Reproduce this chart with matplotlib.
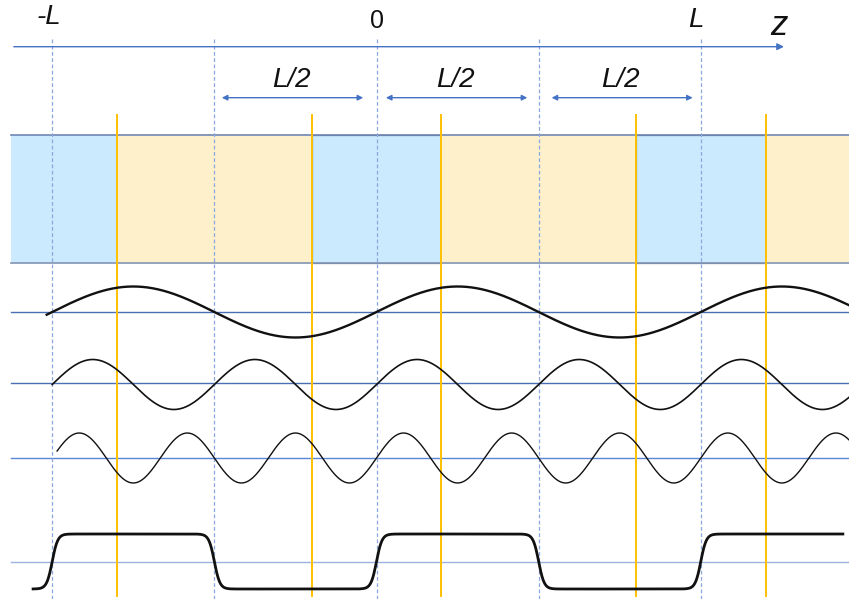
import numpy as np
import matplotlib.pyplot as plt
from matplotlib.patches import Rectangle

plt.rcParams['font.family'] = ['Liberation Sans', 'DejaVu Sans']

# horizontal unit: z / L ; vertical: image rows (top = 0)
z_left, z_right = -1.161, 1.457
z_start = -1.127

grid_z = [-1.0, -0.5, 0.0, 0.5, 1.0]          # dashed guide lines
yellow_z = [-0.8, -0.2, 0.2, 0.8, 1.2]        # orange marker lines
band_edges = [z_start, -0.8, -0.2, 0.2, 0.8, 1.2, z_right]
band_kind = ['blue', 'yellow', 'blue', 'yellow', 'blue', 'yellow']

top_labels = ['-L', '0', 'L']
top_label_z = [-1.01, 0.0, 0.984]
top_label_row = [17.0, 20.5, 20.0]
top_label_size = [20, 18, 20]
half_spans = [(-0.477, -0.041), (0.029, 0.465), (0.540, 0.975)]

# sine rows: harmonic, centre row, amplitude, start z, baseline row, line width
harmonics = [1, 2, 3]
wave_center = [312.0, 384.5, 458.0]
wave_amp = [25.5, 25.0, 25.0]
wave_start = [-1.017, -1.0, -0.985]
wave_base = [311.7, 383.3, 458.3]
wave_lw = [1.7, 1.2, 1.0]
base_colors = ['#4a6fb5', '#4a6fb5', '#5b86d6']

# smoothed square wave
sq_steps = [-1.0, -0.5, 0.0, 0.5, 1.0]
sq_sign = [1, -1, 1, -1, 1]
sq_high, sq_low, sq_base = 534.0, 589.0, 561.7
sq_range = (-1.059, 1.438)

band_top, band_bot = 135.0, 262.7
axis_row, arrow_row = 46.7, 97.7

fig = plt.figure(figsize=(8.49, 5.99), dpi=100)
ax = fig.add_axes([0, 0, 1, 1])
ax.set_xlim(z_left, z_right)
ax.set_ylim(599, 0)
ax.axis('off')

# coloured band
fills = {'blue': '#cceafd', 'yellow': '#fff0cc'}
for i, kind in enumerate(band_kind):
    a, b = band_edges[i], band_edges[i + 1]
    edge = '#6b7c99' if (kind == 'blue' and i > 0) else 'none'
    ax.add_patch(Rectangle((a, band_top), b - a, band_bot - band_top,
                           facecolor=fills[kind], edgecolor=edge,
                           lw=0.9, zorder=1))
ax.plot([z_start, z_right], [band_top, band_top], color='#6f86b3', lw=1.2, zorder=2)
ax.plot([z_start, z_right], [band_bot, band_bot], color='#8394b3', lw=1.2, zorder=2)

# dashed guides
for z in grid_z:
    ax.plot([z, z], [39, 599], color='#8aa8df', lw=0.9, ls=(0, (3, 2)), zorder=3)

# z axis
ax.annotate('', xy=(1.265, axis_row), xytext=(z_start, axis_row),
            arrowprops=dict(arrowstyle='-|>', color='#4472c4', lw=1.0,
                            mutation_scale=10), zorder=3)
for lab, z, row, fs in zip(top_labels, top_label_z, top_label_row, top_label_size):
    ax.text(z, row, lab, fontsize=fs,
            style='normal' if lab == '0' else 'italic',
            ha='center', va='center', color='#111111')
ax.text(1.241, 25.5, 'z', fontsize=25, style='italic', ha='center', va='center',
        color='#111111')

# L/2 spans
for a, b in half_spans:
    ax.annotate('', xy=(b, arrow_row), xytext=(a, arrow_row),
                arrowprops=dict(arrowstyle='<|-|>', color='#4472c4', lw=1.0,
                                mutation_scale=8, shrinkA=0, shrinkB=0))
    ax.text((a + b) / 2 - 0.005, 80, 'L/2', fontsize=20, style='italic',
            ha='center', va='center', color='#111111')

# baselines and sine rows
for n, c, amp, zs, base, lw, col in zip(harmonics, wave_center, wave_amp,
                                         wave_start, wave_base, wave_lw, base_colors):
    ax.plot([z_start, z_right], [base, base], color=col, lw=1.0, zorder=2)
    z = np.linspace(zs, z_right, 800)
    ax.plot(z, c - amp * np.sin(2 * np.pi * n * z), color='#111111', lw=lw, zorder=5)

ax.plot([z_start, z_right], [sq_base, sq_base], color='#9ab3e0', lw=1.0, zorder=2)
z = np.linspace(sq_range[0], sq_range[1], 1500)
level = np.zeros_like(z)
for t, s in zip(sq_steps, sq_sign):
    level += s * 0.5 * (1 + np.tanh((z - t) / 0.017))
ax.plot(z, sq_low + (sq_high - sq_low) * level, color='#111111', lw=2.0, zorder=5)

# orange marker lines
for z in yellow_z:
    ax.plot([z, z], [115, 596], color='#ffc000', lw=1.4, zorder=4)

fig.savefig('out.png', dpi=100)
